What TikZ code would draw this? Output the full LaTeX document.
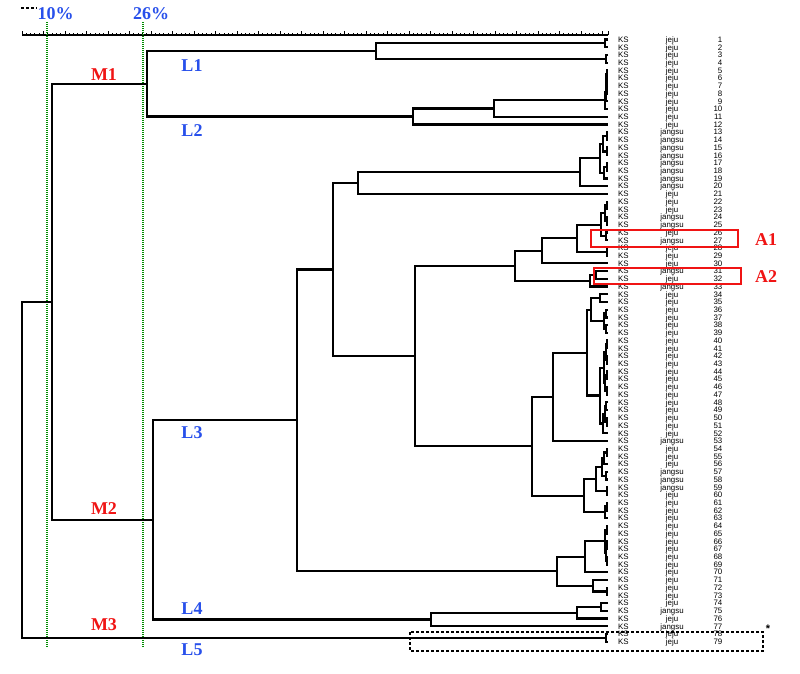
\documentclass[tikz,border=0pt]{standalone}
\usepackage{fontspec}
\setmainfont{Liberation Serif}
\setsansfont{Liberation Sans}
\usetikzlibrary{calc}
\definecolor{mred}{RGB}{240,20,20}
\definecolor{lblue}{RGB}{40,80,235}
\definecolor{dgreen}{RGB}{0,140,0}
% join two children (#3,#4) by a bracket at x=#2, naming the new node #1
\newcommand\jn[4]{%
  \path let \p1=($(#3)!.5!(#4)$) in (#2pt,\y1) coordinate (#1);%
  \draw[tree] (#3) -- (#1 |- #3) -- (#1 |- #4) -- (#4);%
}
\begin{document}
\begin{tikzpicture}[x=1pt,y=-1pt,
  tree/.style={line width=2.2pt, line join=miter},
  mlab/.style={text=mred, font=\fontsize{18}{18}\selectfont\bfseries, inner sep=0pt},
  llab/.style={text=lblue, font=\fontsize{18}{18}\selectfont\bfseries, inner sep=0pt},
  leaflab/.style={font=\fontsize{7.9}{8}\selectfont\sffamily, inner sep=0pt},
  greenline/.style={dgreen, line width=1.5pt, dash pattern=on 1pt off 1pt},
  redbox/.style={mred, line width=1.6pt},
  dashbox/.style={black, line width=1.8pt, dash pattern=on 3pt off 2pt},
  tick/.style={line width=0.9pt}]
\fill[white] (0,0) rectangle (800,673);
\useasboundingbox (0,0) rectangle (800,673);

% scale bar
\draw[dashbox] (21,8) -- (37,8);
\draw[line width=2.4pt] (22,35) -- (608,35);
\foreach \k in {0,...,135} \draw[tick] ({22+4.3*\k},35) -- ++(0,-2.5);
\foreach \k in {0,...,27} \draw[tick] ({22+21.5*\k},35) -- ++(0,-4);
\draw[tick] (608,35) -- (608,31);
\node[llab] (p10) at (55.5,14) {10\%};
\node[llab] (p26) at (151,14) {26\%};

% green cut lines
\draw[greenline] (47,22) -- (47,648);
\draw[greenline] (143,22) -- (143,648);

% leaves and their labels
\foreach \t [count=\i] in {jeju,jeju,jeju,jeju,jeju,jeju,jeju,jeju,jeju,jeju,jeju,jeju,
  jangsu,jangsu,jangsu,jangsu,jangsu,jangsu,jangsu,jangsu,
  jeju,jeju,jeju,jangsu,jangsu,jeju,jangsu,jeju,jeju,jeju,jangsu,jeju,jangsu,
  jeju,jeju,jeju,jeju,jeju,jeju,jeju,jeju,jeju,jeju,jeju,jeju,jeju,jeju,jeju,jeju,jeju,jeju,jeju,
  jangsu,jeju,jeju,jeju,jangsu,jangsu,jangsu,
  jeju,jeju,jeju,jeju,jeju,jeju,jeju,jeju,jeju,jeju,jeju,jeju,jeju,jeju,jeju,
  jangsu,jeju,jangsu,jeju,jeju}{
  \pgfmathsetmacro\yy{39.5+7.72*(\i-1)}
  \pgfmathsetmacro\yb{\yy+2.8}
  \coordinate (l\i) at (608,\yy);
  \node[leaflab, anchor=base west] (labKS\i) at (618,\yb) {KS};
  \node[leaflab, anchor=base] (labSite\i) at (672,\yb) {\t};
  \node[leaflab, anchor=base east] (labNum\i) at (722.5,\yb) {\i};
}

% ---- L1
\jn{p12}{605}{l1}{l2}
\jn{p34}{606}{l3}{l4}
\jn{L1n}{376}{p12}{p34}
% ---- L2
\jn{q56}{607}{l5}{l6}
\jn{q78}{607}{l7}{l8}
\jn{q58}{606.5}{q56}{q78}
\jn{q59}{606}{q58}{l9}
\jn{c510}{605}{q59}{l10}
\jn{m494}{494}{c510}{l11}
\jn{L2n}{413}{m494}{l12}
\jn{M1n}{147}{L1n}{L2n}
% ---- L3 upper
\jn{r1314}{607}{l13}{l14}
\jn{r1516}{607}{l15}{l16}
\jn{ra}{603}{r1314}{r1516}
\jn{r1718}{607}{l17}{l18}
\jn{rb}{604}{r1718}{l19}
\jn{c1319}{600}{ra}{rb}
\jn{m580}{580}{c1319}{l20}
\jn{m358}{358}{m580}{l21}
\jn{s2223}{607}{l22}{l23}
\jn{s2425}{607}{l24}{l25}
\jn{s2225}{605}{s2223}{s2425}
\jn{s2627}{606}{l26}{l27}
\jn{m601}{601}{s2225}{s2627}
\jn{s2829}{607}{l28}{l29}
\jn{m577}{577}{m601}{s2829}
\jn{m542}{542}{m577}{l30}
\jn{s3132}{596}{l31}{l32}
\jn{m590}{590}{s3132}{l33}
\jn{m515}{515}{m542}{m590}
\jn{t3435}{600}{l34}{l35}
\jn{t3637}{606}{l36}{l37}
\jn{t3839}{606}{l38}{l39}
\jn{t3639}{604}{t3637}{t3839}
\jn{m591}{591}{t3435}{t3639}
\jn{u4041}{607}{l40}{l41}
\jn{u4243}{607}{l42}{l43}
\jn{u4445}{607}{l44}{l45}
\jn{u4647}{607}{l46}{l47}
\jn{u4849}{606}{l48}{l49}
\jn{u5051}{607}{l50}{l51}
\jn{uq1}{606}{u4041}{u4243}
\jn{uq2}{605}{u4445}{u4647}
\jn{uT}{604}{uq1}{uq2}
\jn{uq3}{605}{u4849}{u5051}
\jn{uB}{603}{uq3}{l52}
\jn{c4052}{600}{uT}{uB}
\jn{m587}{587}{m591}{c4052}
\jn{m553}{553}{m587}{l53}
\jn{v5455}{607}{l54}{l55}
\jn{vR1}{604}{v5455}{l56}
\jn{v5758}{606}{l57}{l58}
\jn{vR2}{602}{vR1}{v5758}
\jn{v5960}{607}{l59}{l60}
\jn{vR3}{596}{vR2}{v5960}
\jn{v6162}{607}{l61}{l62}
\jn{v6163}{605}{v6162}{l63}
\jn{m584}{584}{vR3}{v6163}
\jn{m532}{532}{m553}{m584}
\jn{m415}{415}{m515}{m532}
\jn{m333}{333}{m358}{m415}
% ---- L3 lower
\jn{w6465}{607}{l64}{l65}
\jn{w6667}{607}{l66}{l67}
\jn{w6869}{607}{l68}{l69}
\jn{w6669}{606}{w6667}{w6869}
\jn{c6469}{605}{w6465}{w6669}
\jn{m585}{585}{c6469}{l70}
\jn{x7273}{607}{l72}{l73}
\jn{m593}{593}{l71}{x7273}
\jn{m557}{557}{m585}{m593}
\jn{L3n}{297}{m333}{m557}
% ---- L4
\jn{y7475}{601}{l74}{l75}
\jn{m577b}{577}{y7475}{l76}
\jn{L4n}{431}{m577b}{l77}
\jn{M2n}{153}{L3n}{L4n}
% ---- top levels
\jn{An}{52}{M1n}{M2n}
\jn{L5n}{606}{l78}{l79}
\jn{root}{22}{An}{L5n}

% cluster labels
\node[mlab] (M1) at (104,75) {M1};
\node[mlab] (M2) at (104,509) {M2};
\node[mlab] (M3) at (104,625) {M3};
\node[llab] (L1) at (192,66) {L1};
\node[llab] (L2) at (192,131) {L2};
\node[llab] (L3) at (192,433) {L3};
\node[llab] (L4) at (192,609) {L4};
\node[llab] (L5) at (192,650) {L5};

% highlight boxes
\draw[redbox] (591,230) rectangle (738,247);
\draw[redbox] (594,268) rectangle (741,284);
\node[mlab] (A1) at (766,240) {A1};
\node[mlab] (A2) at (766,277) {A2};
\draw[dashbox] (410,632) rectangle (763,651);
\node[font=\fontsize{11}{11}\selectfont\sffamily\bfseries, inner sep=0pt] (star) at (768,629) {*};
\end{tikzpicture}
\end{document}
